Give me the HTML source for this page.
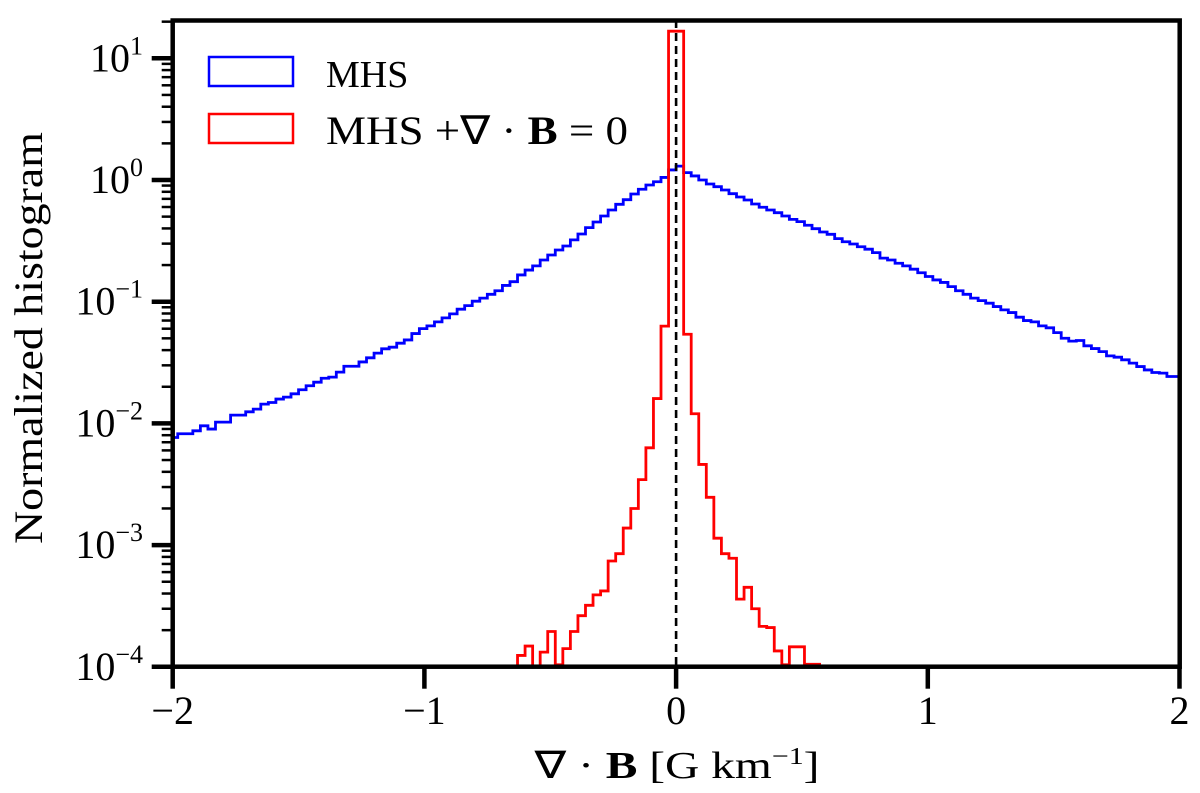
<!DOCTYPE html>
<html><head><meta charset="utf-8"><style>
html,body{margin:0;padding:0;background:#fff;}
svg{display:block;font-family:"Liberation Serif",serif;}
</style></head><body>
<svg id="chart" width="1200" height="793" viewBox="0 0 1200 793" xmlns="http://www.w3.org/2000/svg">
<defs><clipPath id="plotclip"><rect x="172.7" y="20.5" width="1007" height="646.5"/></clipPath></defs>
<g id="marks" clip-path="url(#plotclip)"></g>
<g id="axes"></g>
<g>
  <rect x="209" y="57" width="84" height="29" fill="none" stroke="#0000ff" stroke-width="2.5"/>
  <text x="326" y="87" font-size="38">MHS</text>
  <rect x="209" y="114" width="84" height="29" fill="none" stroke="#ff0000" stroke-width="2.5"/>
  <text x="326" y="144" font-size="40" textLength="302" lengthAdjust="spacingAndGlyphs">MHS +∇ · <tspan font-weight="bold">B</tspan> = 0</text>
</g>
<text transform="translate(42,338) rotate(-90)" text-anchor="middle" font-size="40" textLength="412" lengthAdjust="spacingAndGlyphs">Normalized histogram</text>
<text x="677" y="778" text-anchor="middle" font-size="38" textLength="285" lengthAdjust="spacingAndGlyphs">∇ · <tspan font-weight="bold">B</tspan> [G km<tspan font-size="24" dy="-14">−1</tspan><tspan dy="14">]</tspan></text>
</svg>
<script>
// Bin edges: multiples of binWidth starting at firstEdge
const blueFirstEdge = -2.01;
const redFirstEdge = -0.63;
const binWidth = 0.03;
const blueValues = [0.00766,0.00822,0.00822,0.00869,0.00955,0.00898,0.01025,0.01025,0.0117,0.0117,
0.01245,0.0131,0.0144,0.01485,0.01585,0.01644,0.0175,0.0189,0.0204,0.0218,
0.0235,0.0240,0.0264,0.0295,0.0295,0.0320,0.0346,0.0378,0.0410,0.0423,
0.0456,0.0485,0.0547,0.0601,0.0633,0.0683,0.0736,0.0794,
0.0868,0.0929,0.101,0.107,0.115,0.123,0.136,0.146,0.166,0.182,0.197,0.220,0.242,0.266,0.287,0.322,0.360,0.406,0.452,0.506,0.567,0.631,0.689,0.767,0.839,0.910,0.968,1.05,1.21,
1.30,1.15,1.08,1.00,0.927,0.881,0.828,0.772,0.725,0.685,0.635,0.597,0.567,0.539,0.506,0.475,0.455,0.425,0.398,0.374,0.358,0.330,0.311,0.298,0.283,0.270,0.253,0.228,0.220,0.207,0.197,0.185,0.173,
0.161,0.151,0.144,0.133,0.123,0.115,0.107,0.102,0.0972,0.0912,0.0857,0.0814,0.0746,0.0700,0.0683,0.0633,0.0610,0.0557,0.0501,0.0474,0.0480,0.0434,0.0412,0.0389,0.0359,0.0350,0.0333,0.0313,0.0293,0.0275,0.0262,0.0259,0.0243,0.0243];
const redValues = [1.24e-4,1.48e-4,0,1.32e-4,1.95e-4,1.04e-4,1.41e-4,1.95e-4,2.63e-4,3.2e-4,
3.9e-4,4.2e-4,7.4e-4,8.5e-4,1.38e-3,2.0e-3,3.45e-3,6.3e-3,0.016,0.063,
16.7,16.7,
0.054,0.012,4.6e-3,2.47e-3,1.14e-3,8.5e-4,7.8e-4,3.6e-4,4.5e-4,3.0e-4,2.15e-4,2.1e-4,1.35e-4,1.04e-4,1.46e-4,1.46e-4,1.05e-4,1.05e-4];
const xTicks = [-2,-1,0,1,2];
const xTickLabels = ["−2","−1","0","1","2"];
const yTickExps = [1,0,-1,-2,-3,-4];

const NS = "http://www.w3.org/2000/svg";
const X0 = 172.7, XS = 251.7, XMIN = -2;
const Y0 = 180, YS = 121.7;
const YBOT = 666.7;
function xs(v){ return X0 + (v - XMIN) * XS; }
function ys(v){ if (v <= 0) return YBOT + 50; return Y0 - YS * Math.log10(v); }
function mk(tag, attrs, parent){ const e=document.createElementNS(NS,tag); for(const k in attrs) e.setAttribute(k,attrs[k]); parent.appendChild(e); return e; }

const marks = document.getElementById('marks');
function stepPath(first, vals){
  let d = "M" + xs(first) + "," + (YBOT+50);
  vals.forEach((v,i)=>{
    const l = xs(first + i*binWidth), r = xs(first + (i+1)*binWidth), y = ys(v);
    d += " L" + l + "," + y + " L" + r + "," + y;
  });
  d += " L" + xs(first + vals.length*binWidth) + "," + (YBOT+50);
  return d;
}
const bp = mk('path',{d:stepPath(blueFirstEdge, blueValues),fill:'none',stroke:'#0000ff','stroke-width':2.8}, marks);


const rp = mk('path',{d:stepPath(redFirstEdge, redValues),fill:'none',stroke:'#ff0000','stroke-width':2.8}, marks);


const zl = mk('line',{x1:xs(0),x2:xs(0),y1:20,y2:YBOT,stroke:'#000','stroke-width':2.6,'stroke-dasharray':'8,5'}, marks);



const axes = document.getElementById('axes');
const frame = mk('rect',{x:X0,y:20.5,width:1007,height:YBOT-20.5,fill:'none',stroke:'#000','stroke-width':4.5}, axes);


xTicks.forEach((t,i)=>{
  const x = xs(t);
  const tk = mk('line',{x1:x,x2:x,y1:YBOT,y2:YBOT+22,stroke:'#000','stroke-width':4.5}, axes);
  
  
  const lb = mk('text',{x:x,y:724,'text-anchor':'middle','font-size':40}, axes);
  lb.textContent = xTickLabels[i];
  
  
});
yTickExps.forEach(e=>{
  const y = ys(Math.pow(10,e));
  const tk = mk('line',{x1:X0-21,x2:X0,y1:y,y2:y,stroke:'#000','stroke-width':4.5}, axes);
  
  
  for(let m=2;m<=9;m++){
    const ym = ys(m*Math.pow(10,e));
    if (ym < 20.5 || ym > YBOT) continue;
    const mt = mk('line',{x1:X0-11,x2:X0,y1:ym,y2:ym,stroke:'#000','stroke-width':2.5}, axes);
    
    
  }
  const lb = mk('text',{x:143,y:y+13,'text-anchor':'end','font-size':40}, axes);
  
  
  const base = document.createElementNS(NS,'tspan'); base.textContent='10'; lb.appendChild(base);
  const sup = document.createElementNS(NS,'tspan'); sup.setAttribute('font-size','26'); sup.setAttribute('dy','-17');
  sup.textContent = e < 0 ? '−' + (-e) : String(e); lb.appendChild(sup);
});
</script>
</body></html>
